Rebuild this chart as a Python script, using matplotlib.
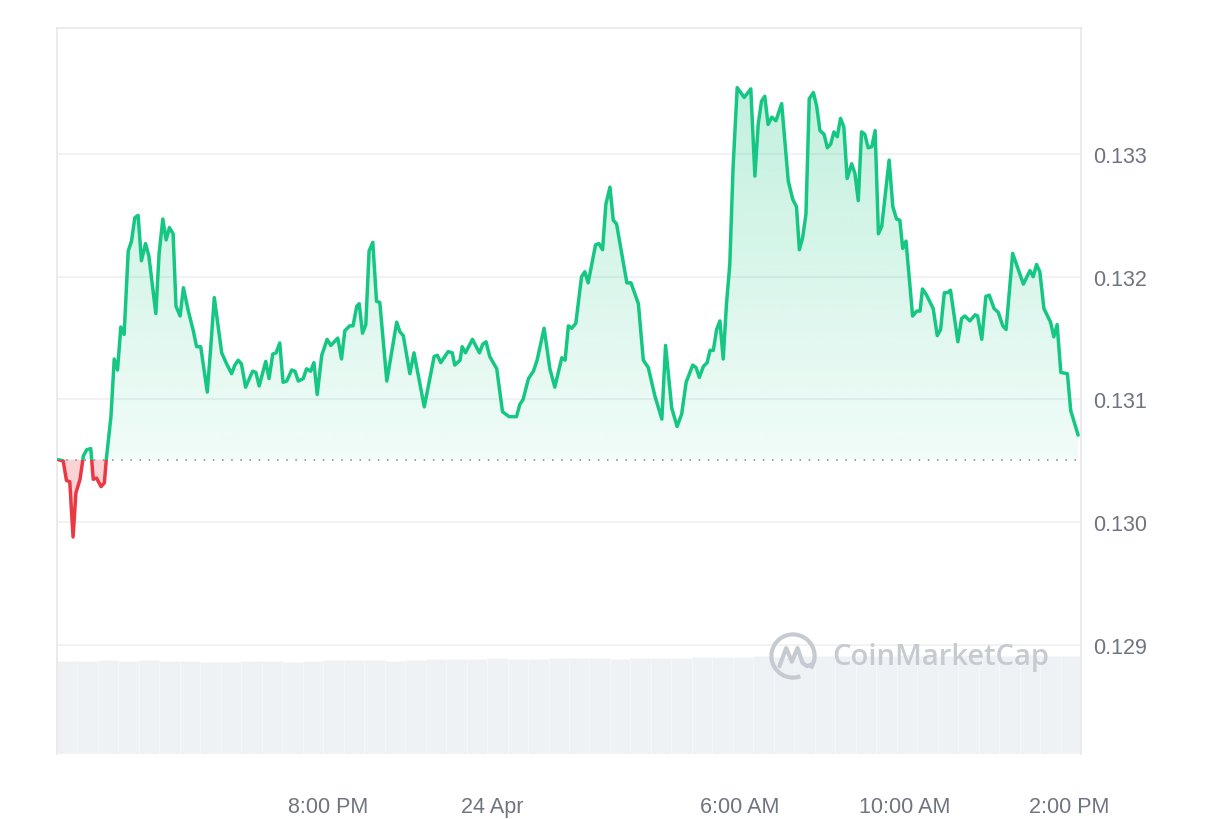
import numpy as np
import matplotlib
matplotlib.use("Agg")
import matplotlib.pyplot as plt
from matplotlib.patches import Rectangle, Arc
from matplotlib.path import Path
from matplotlib.colors import to_rgb

# ---------------- data (hours since 23 Apr 00:00, price in USD) ----------------
hours = [13.45, 13.57, 13.65, 13.73, 13.81, 13.88, 13.98, 14.06, 14.14, 14.24,
         14.30, 14.38, 14.49, 14.57, 14.62, 14.73, 14.81, 14.89, 14.97, 15.05,
         15.15, 15.23, 15.31, 15.39, 15.47, 15.57, 15.65, 15.82, 15.90, 15.99,
         16.07, 16.15, 16.24, 16.31, 16.41, 16.49, 16.61, 16.73, 16.81, 16.91,
         17.07, 17.15, 17.24, 17.42, 17.54, 17.66, 17.74, 17.82, 17.90, 18.00,
         18.17, 18.25, 18.33, 18.49, 18.57, 18.66, 18.74, 18.83, 18.91, 19.00,
         19.12, 19.20, 19.28, 19.40, 19.48, 19.58, 19.66, 19.74, 19.85, 19.98,
         20.07, 20.24, 20.33, 20.41, 20.53, 20.61, 20.70, 20.76, 20.84, 20.92,
         21.00, 21.09, 21.18, 21.26, 21.43, 21.67, 21.75, 21.83, 21.99, 22.09,
         22.34, 22.58, 22.66, 22.74, 22.92, 23.02, 23.08, 23.21, 23.26, 23.34,
         23.51, 23.68, 23.76, 23.84, 23.93, 24.10, 24.24, 24.40, 24.58, 24.66,
         24.74, 24.87, 24.99, 25.08, 25.25, 25.39, 25.51, 25.68, 25.76, 25.84,
         25.92, 26.02, 26.16, 26.24, 26.32, 26.50, 26.58, 26.67, 26.75, 26.85,
         26.93, 27.01, 27.26, 27.36, 27.54, 27.66, 27.78, 27.94, 28.11, 28.20,
         28.35, 28.48, 28.59, 28.70, 28.86, 28.94, 29.02, 29.12, 29.21, 29.28,
         29.36, 29.44, 29.52, 29.60, 29.68, 29.76, 29.84, 29.94, 30.11, 30.27,
         30.37, 30.45, 30.53, 30.61, 30.69, 30.78, 30.88, 30.94, 31.02, 31.18,
         31.29, 31.38, 31.45, 31.53, 31.61, 31.69, 31.79, 31.87, 31.95, 32.05,
         32.13, 32.21, 32.29, 32.37, 32.45, 32.53, 32.61, 32.72, 32.80, 32.88,
         32.96, 33.04, 33.12, 33.21, 33.29, 33.37, 33.45, 33.63, 33.72, 33.81,
         33.89, 33.96, 34.04, 34.20, 34.30, 34.38, 34.44, 34.54, 34.70, 34.80,
         34.88, 34.97, 35.05, 35.12, 35.30, 35.39, 35.47, 35.59, 35.72, 35.78,
         35.88, 35.98, 36.06, 36.18, 36.28, 36.39, 36.47, 36.63, 36.89, 37.05,
         37.13, 37.21, 37.29, 37.39, 37.55, 37.63, 37.71, 37.80, 37.96, 38.04,
         38.22]

prices = [0.13051, 0.13050, 0.13034, 0.13033, 0.12988, 0.13024, 0.13035, 0.13054, 0.13059, 0.13060,
          0.13035, 0.13036, 0.13029, 0.13032, 0.13052, 0.13086, 0.13133, 0.13124, 0.13159, 0.13153,
          0.13221, 0.13229, 0.13248, 0.13250, 0.13213, 0.13227, 0.13217, 0.13170, 0.13219, 0.13247,
          0.13230, 0.13240, 0.13235, 0.13176, 0.13168, 0.13191, 0.13172, 0.13156, 0.13143, 0.13143,
          0.13106, 0.13141, 0.13183, 0.13138, 0.13129, 0.13121, 0.13128, 0.13132, 0.13129, 0.13110,
          0.13123, 0.13122, 0.13111, 0.13131, 0.13117, 0.13137, 0.13138, 0.13146, 0.13114, 0.13115,
          0.13124, 0.13123, 0.13115, 0.13117, 0.13125, 0.13123, 0.13130, 0.13104, 0.13136, 0.13149,
          0.13144, 0.13150, 0.13133, 0.13156, 0.13160, 0.13160, 0.13176, 0.13178, 0.13154, 0.13161,
          0.13221, 0.13228, 0.13180, 0.13179, 0.13115, 0.13163, 0.13155, 0.13152, 0.13121, 0.13138,
          0.13094, 0.13135, 0.13136, 0.13130, 0.13139, 0.13138, 0.13128, 0.13132, 0.13143, 0.13138,
          0.13149, 0.13138, 0.13145, 0.13147, 0.13135, 0.13125, 0.13090, 0.13086, 0.13086, 0.13096,
          0.13100, 0.13117, 0.13123, 0.13132, 0.13158, 0.13125, 0.13110, 0.13134, 0.13132, 0.13160,
          0.13158, 0.13162, 0.13200, 0.13204, 0.13195, 0.13226, 0.13227, 0.13222, 0.13259, 0.13273,
          0.13246, 0.13243, 0.13195, 0.13195, 0.13178, 0.13132, 0.13126, 0.13103, 0.13084, 0.13144,
          0.13093, 0.13078, 0.13088, 0.13114, 0.13128, 0.13126, 0.13118, 0.13127, 0.13130, 0.13140,
          0.13140, 0.13157, 0.13164, 0.13133, 0.13178, 0.13210, 0.13289, 0.13354, 0.13346, 0.13353,
          0.13282, 0.13324, 0.13343, 0.13347, 0.13324, 0.13330, 0.13327, 0.13333, 0.13341, 0.13278,
          0.13263, 0.13257, 0.13222, 0.13232, 0.13251, 0.13345, 0.13350, 0.13339, 0.13319, 0.13316,
          0.13305, 0.13308, 0.13318, 0.13314, 0.13329, 0.13322, 0.13280, 0.13292, 0.13284, 0.13262,
          0.13318, 0.13316, 0.13305, 0.13306, 0.13319, 0.13235, 0.13241, 0.13295, 0.13257, 0.13247,
          0.13246, 0.13223, 0.13229, 0.13168, 0.13172, 0.13172, 0.13190, 0.13185, 0.13174, 0.13152,
          0.13157, 0.13187, 0.13187, 0.13189, 0.13147, 0.13166, 0.13168, 0.13164, 0.13169, 0.13168,
          0.13149, 0.13184, 0.13185, 0.13174, 0.13171, 0.13160, 0.13157, 0.13219, 0.13194, 0.13205,
          0.13200, 0.13210, 0.13204, 0.13174, 0.13163, 0.13151, 0.13161, 0.13122, 0.13121, 0.13091,
          0.13071]

base_price = 0.13051  # opening price of the period (dotted reference line)

# 24h volume (million USD), one bar per half hour
volumes = [9.3, 9.3, 9.4, 9.3, 9.4, 9.3, 9.3, 9.2, 9.2, 9.3,
           9.3, 9.2, 9.3, 9.4, 9.4, 9.4, 9.3, 9.4, 9.5, 9.5,
           9.5, 9.6, 9.5, 9.5, 9.6, 9.6, 9.6, 9.5, 9.6, 9.6,
           9.6, 9.7, 9.7, 9.7, 9.8, 9.7, 9.8, 9.8, 9.8, 9.8,
           9.8, 9.9, 9.8, 9.8, 9.9, 9.9, 9.8, 9.9, 9.8, 9.8]

x_ticks = [20, 24, 30, 34, 38]
x_labels = ["8:00 PM", "24 Apr", "6:00 AM", "10:00 AM", "2:00 PM"]
y_ticks = [0.129, 0.130, 0.131, 0.132, 0.133]
y_labels = ["0.129", "0.130", "0.131", "0.132", "0.133"]

# ---------------- style ----------------
GREEN = "#16c784"
RED = "#ea3943"
GRID = "#eef0f3"
SPINE = "#e6e8eb"
TICK = "#6f7580"
VOL = "#eff2f5"

x_min, x_max = 13.42, 38.29
y_min, y_max = 0.128112, 0.134026

W, H = 1220, 820
fig = plt.figure(figsize=(W / 100, H / 100), dpi=100)
fig.patch.set_facecolor("white")
rect = [57 / W, (H - 755) / H, (1081 - 57) / W, (755 - 29) / H]

# volume axes (behind)
axv = fig.add_axes(rect, zorder=0)
n = len(volumes)
edges = np.linspace(x_min, x_max, n + 1)
centers = (edges[:-1] + edges[1:]) / 2
axv.bar(centers, volumes, width=(x_max - x_min) / n, color=VOL,
        edgecolor="#f8f9fb", linewidth=0.4)
axv.set_xlim(x_min, x_max)
axv.set_ylim(0, 72.6)
axv.axis("off")

# price axes
ax = fig.add_axes(rect, zorder=1)
ax.patch.set_alpha(0)
ax.set_xlim(x_min, x_max)
ax.set_ylim(y_min, y_max)

h = np.array(hours)
p = np.array(prices)

# grid
for yt in y_ticks:
    ax.axhline(yt, color=GRID, lw=1.2, zorder=0.5)

# green gradient fill above baseline
pc = ax.fill_between(h, p, base_price, where=p >= base_price, interpolate=True,
                     facecolor="none", edgecolor="none")
clip = Path.make_compound_path(*pc.get_paths())
grad = np.zeros((256, 1, 4))
grad[:, :, :3] = to_rgb(GREEN)
grad[:, :, 3] = np.linspace(0.06, 0.26, 256)[:, None]
im = ax.imshow(grad, extent=[x_min, x_max, base_price, max(prices)], origin="lower",
               aspect="auto", zorder=1, interpolation="bilinear")
im.set_clip_path(clip, transform=ax.transData)

# red fill below baseline
ax.fill_between(h, p, base_price, where=p <= base_price, interpolate=True,
                facecolor=RED, alpha=0.22, edgecolor="none", zorder=1)

# dotted baseline
ax.axhline(base_price, color="#80868f", lw=1.1, ls=(0, (1, 5)), zorder=2)

# line: green above baseline, red below
lg, = ax.plot(h, p, color=GREEN, lw=2.5, zorder=3, solid_joinstyle="round",
              solid_capstyle="round")
lr, = ax.plot(h, p, color=RED, lw=2.5, zorder=3, solid_joinstyle="round",
              solid_capstyle="round")
up = Rectangle((x_min, base_price), x_max - x_min, y_max - base_price, transform=ax.transData)
dn = Rectangle((x_min, y_min - 0.001), x_max - x_min, base_price - y_min + 0.001, transform=ax.transData)
lg.set_clip_path(up)
lr.set_clip_path(dn)

# axes
ax.set_xticks(x_ticks)
ax.set_xticklabels(x_labels)
ax.set_yticks(y_ticks)
ax.set_yticklabels(y_labels)
ax.yaxis.tick_right()
ax.tick_params(axis="both", length=0, colors=TICK, labelsize=15.5)
ax.tick_params(axis="y", pad=9)
ax.tick_params(axis="x", pad=30)
for lab in ax.get_xticklabels() + ax.get_yticklabels():
    lab.set_fontfamily("Liberation Sans")
for s in ["left", "top", "right"]:
    ax.spines[s].set_color(SPINE)
    ax.spines[s].set_linewidth(1.2)
ax.spines["bottom"].set_visible(False)

# watermark
fig.text(832 / W, 1 - 658 / H, "CoinMarketCap", fontsize=21, color="#c6cbd2",
         fontfamily="Open Sans", fontweight="semibold", va="center", ha="left", zorder=5)
lax = fig.add_axes([768 / W, 1 - 682 / H, 50 / W, 50 / H], zorder=5)
lax.set_xlim(-1.1, 1.1)
lax.set_ylim(-1.1, 1.1)
lax.axis("off")
lax.add_patch(Arc((0, 0), 1.9, 1.9, theta1=-35, theta2=290, color="#c6cbd2", lw=3))
lax.plot([-0.6, -0.3, -0.05, 0.2, 0.42, 0.62, 0.85],
         [-0.45, 0.35, -0.25, 0.35, -0.3, -0.45, -0.35],
         color="#c6cbd2", lw=3, solid_capstyle="round", solid_joinstyle="round")

fig.savefig("out.png", dpi=100, facecolor="white")
